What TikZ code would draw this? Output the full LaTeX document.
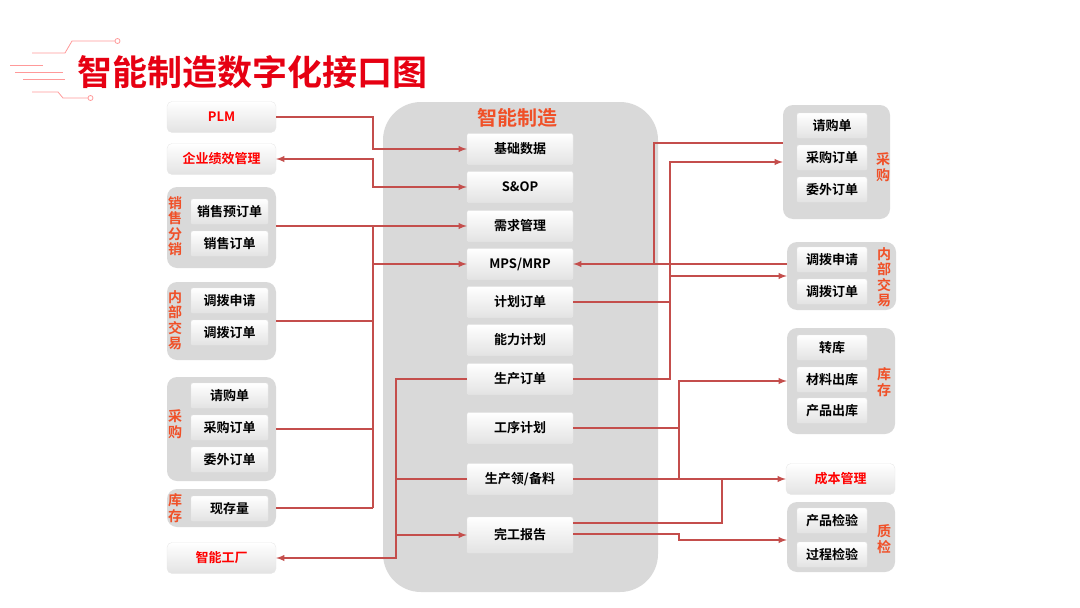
\documentclass[tikz,border=0pt]{standalone}
\usepackage{fontspec}
\setmainfont{Noto Sans CJK SC}[BoldFont={Noto Sans CJK SC Bold}]
\usepackage{xcolor}
\usetikzlibrary{arrows}
\definecolor{myred}{RGB}{230,0,18}
\definecolor{linered}{RGB}{196,78,76}
\definecolor{lblred}{RGB}{240,80,40}
\definecolor{bggray}{RGB}{217,217,217}

\begin{document}
\begin{tikzpicture}[x=1pt,y=-1pt,
  card/.style={rounded corners=2pt, top color=white, bottom color=gray!22, draw=gray!18, line width=0.4pt,
    minimum height=25pt, inner sep=0pt, font=\fontsize{13}{13}\selectfont\bfseries},
  midcard/.style={card, minimum width=106pt, minimum height=31pt},
  outcard/.style={card, rounded corners=5pt, minimum width=109pt, minimum height=31pt, text=red},
  grp/.style={fill=bggray, rounded corners=10pt, inner sep=0pt},
  side/.style={text=lblred, align=center, inner sep=0pt, font=\fontsize{14}{15.5}\selectfont\bfseries},
  conn/.style={draw=linered, line width=1.8pt},
  arr/.style={conn, -latex}]
  \useasboundingbox (0,0) rectangle (1080,608);
  \def\lx{221.5}
  \def\mx{520}
  \def\rx{832}

%title:
  \begin{scope}[red!40, line width=0.8pt]
    \draw (32,53) -- (65,53) -- (72,41) -- (115,41);
    \draw[fill=white] (117.5,41) circle (2.5pt);
    \draw (10,65) -- (43,65);
    \draw (15,72) -- (63,72);
    \draw (23,79) -- (65,79);
    \draw (32,92) -- (58,92) -- (63,98) -- (88,98);
    \draw[fill=white] (90.5,98) circle (2.5pt);
  \end{scope}
  \node[anchor=west, text=myred, inner sep=0pt, font=\fontsize{35}{35}\selectfont\bfseries] (title) at (77,72) {智能制造数字化接口图};

%left column:
  \node[outcard] (plm) at (\lx,117) {PLM};
  \node[outcard] (qyjx) at (\lx,159) {企业绩效管理};

  \node[grp, minimum width=109pt, minimum height=81pt] (gxs) at (\lx,227.5) {};
  \node[side] (lxs) at (175,226) {销\\售\\分\\销};
  \node[card, minimum width=77pt] (xsyd) at (229.5,211.5) {销售预订单};
  \node[card, minimum width=77pt] (xsdd) at (229.5,243.5) {销售订单};

  \node[grp, minimum width=109pt, minimum height=78pt] (gnb) at (\lx,321) {};
  \node[side] (lnb) at (175,320) {内\\部\\交\\易};
  \node[card, minimum width=77pt] (dbsq) at (229.5,300.5) {调拨申请};
  \node[card, minimum width=77pt] (dbdd) at (229.5,332.5) {调拨订单};

  \node[grp, minimum width=109pt, minimum height=104pt] (gcg) at (\lx,429) {};
  \node[side] (lcg) at (175,424) {采\\购};
  \node[card, minimum width=77pt] (qgd) at (229.5,395.5) {请购单};
  \node[card, minimum width=77pt] (cgdd) at (229.5,427.5) {采购订单};
  \node[card, minimum width=77pt] (wwdd) at (229.5,459.5) {委外订单};

  \node[grp, minimum width=109pt, minimum height=38pt] (gkc) at (\lx,508) {};
  \node[side] (lkc) at (175,508) {库\\存};
  \node[card, minimum width=77pt] (xcl) at (229.5,508.5) {现存量};

  \node[outcard] (znc) at (\lx,558) {智能工厂};

%center column:
  \fill[bggray, rounded corners=38pt] (383,102) rectangle (658,592);
  \node[text=lblred, inner sep=0pt, font=\fontsize{20}{20}\selectfont\bfseries] (zz) at (517,118) {智能制造};
  \node[midcard] (jcsj) at (\mx,149) {基础数据};
  \node[midcard] (sop) at (\mx,187) {S\&OP};
  \node[midcard] (xqgl) at (\mx,226) {需求管理};
  \node[midcard] (mps) at (\mx,264) {MPS/MRP};
  \node[midcard] (jhdd) at (\mx,302) {计划订单};
  \node[midcard] (nljh) at (\mx,340) {能力计划};
  \node[midcard] (scdd) at (\mx,379) {生产订单};
  \node[midcard] (gxjh) at (\mx,428) {工序计划};
  \node[midcard] (scl) at (\mx,479) {生产领/备料};
  \node[midcard, minimum height=36pt] (wgbg) at (\mx,535) {完工报告};

%right column:
  \node[grp, minimum width=107pt, minimum height=114pt] (grcg) at (836.5,162) {};
  \node[side] (rcg) at (883,167) {采\\购};
  \node[card, minimum width=70pt] (rqgd) at (\rx,125.5) {请购单};
  \node[card, minimum width=70pt] (rcgdd) at (\rx,157.5) {采购订单};
  \node[card, minimum width=70pt] (rwwdd) at (\rx,189.5) {委外订单};

  \node[grp, minimum width=109pt, minimum height=68pt] (grnb) at (841.5,276) {};
  \node[side] (rnb) at (884,277) {内\\部\\交\\易};
  \node[card, minimum width=70pt] (rdbsq) at (\rx,259.5) {调拨申请};
  \node[card, minimum width=70pt] (rdbdd) at (\rx,291.5) {调拨订单};

  \node[grp, minimum width=108pt, minimum height=106pt] (grkc) at (841,381) {};
  \node[side] (rkc) at (884,382) {库\\存};
  \node[card, minimum width=70pt] (zk) at (\rx,347.5) {转库};
  \node[card, minimum width=70pt] (clck) at (\rx,379.5) {材料出库};
  \node[card, minimum width=70pt] (cpck) at (\rx,410.5) {产品出库};

  \node[outcard] (cbgl) at (840.5,479) {成本管理};

  \node[grp, minimum width=108pt, minimum height=70pt] (grzj) at (841,537) {};
  \node[side] (rzj) at (884,539) {质\\检};
  \node[card, minimum width=70pt] (cpjy) at (\rx,520.5) {产品检验};
  \node[card, minimum width=70pt] (gcjy) at (\rx,554.5) {过程检验};

%connectors:
  \coordinate (xa) at (373,0);
  \coordinate (xc) at (396,0);
  \coordinate (xd) at (654,0);
  \coordinate (xe) at (670,0);
  \coordinate (xf) at (679,0);
  \coordinate (xg) at (722,0);

  \draw[arr] (plm.east) -| (xa |- jcsj.west) -- (jcsj.west);
  \draw[conn, latex-latex] (qyjx.east) -| (xa |- sop.west) -- (sop.west);

  \draw[arr] (xqgl.west -| gxs.east) -- (xqgl.west);
  \draw[conn] (xa |- xqgl.west) -- (xa |- gkc.east);
  \draw[arr] (xa |- mps.west) -- (mps.west);
  \draw[conn] (gnb.east) -- (xa |- gnb.east);
  \draw[conn] (gcg.east) -- (xa |- gcg.east);
  \draw[conn] (gkc.east) -- (xa |- gkc.east);

  \draw[arr] (scdd.west) -| (xc |- znc.east) -- (znc.east);
  \draw[conn] (scl.west) -- (xc |- scl.west);
  \draw[arr] (xc |- wgbg.west) -- (wgbg.west);

  \draw[arr] ([yshift=19pt]grcg.west) -| (xd |- mps.east) -- (mps.east);
  \draw[conn] (grnb.west |- mps.east) -- (xd |- mps.east);

  \draw[arr] (scdd.east) -| (xe |- grcg.west) -- (grcg.west);
  \draw[conn] (jhdd.east) -- (xe |- jhdd.east);
  \draw[arr] (xe |- grnb.west) -- (grnb.west);

  \draw[arr] (scl.east) -| (xf |- grkc.west) -- (grkc.west);
  \draw[arr] (scl.east) -- (cbgl.west);
  \draw[conn] (gxjh.east) -- (xf |- gxjh.east);

  \draw[conn] ([yshift=12pt]wgbg.east) -| (xg |- cbgl.west);
  \draw[arr] ([yshift=1pt]wgbg.east) -| ([yshift=-3pt]xf |- grzj.west) -- ([yshift=-3pt]grzj.west);
\end{tikzpicture}
\end{document}
